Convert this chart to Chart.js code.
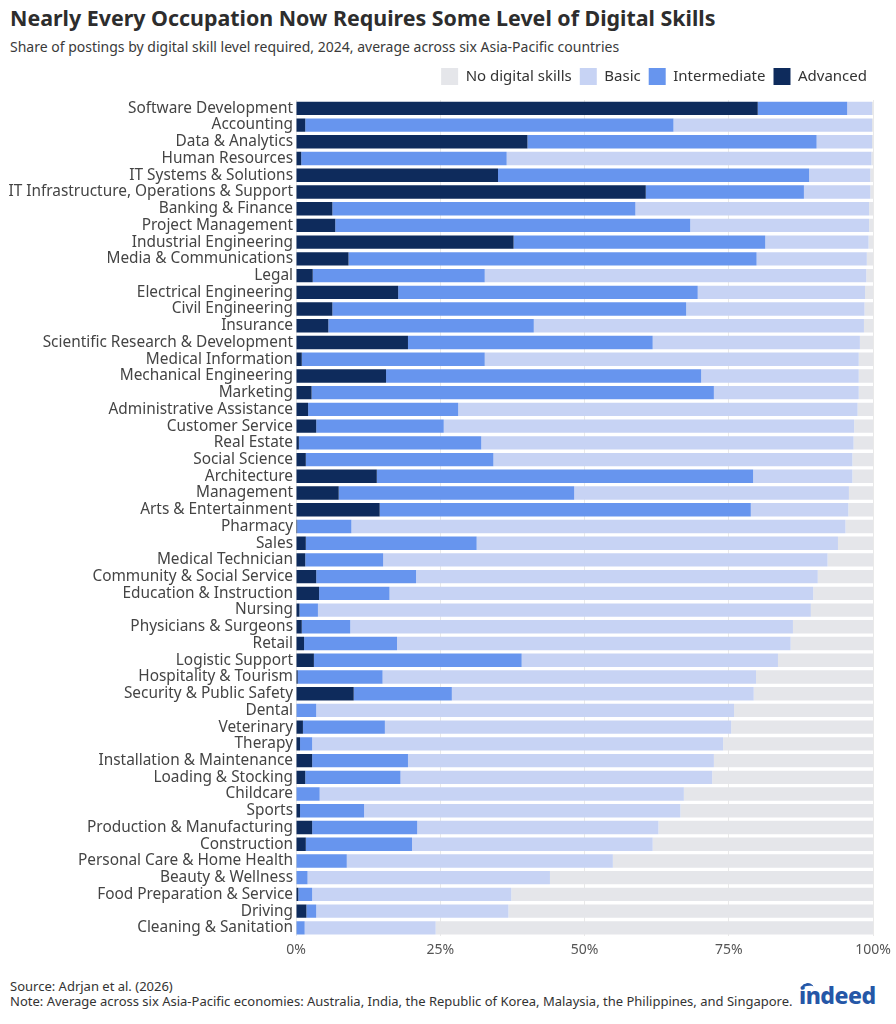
<!DOCTYPE html>
<html>
<head>
<meta charset="utf-8">
<script src="https://cdn.jsdelivr.net/npm/chart.js@4.4.1/dist/chart.umd.min.js"></script>
<style>
    body { margin: 0; background: #fff; font-family: "Noto Sans", sans-serif; }
    #page { position: relative; width: 896px; height: 1024px; overflow: hidden; }
    h1 { position: absolute; left: 10px; top: 3px; margin: 0; font-size: 21.4px; font-weight: 700; color: #2d2d2d; }
    .sub { position: absolute; left: 10px; top: 37px; margin: 0; font-size: 14px; color: #3a3a3a; }
    #wrap { position: absolute; left: 0; top: 50px; width: 896px; height: 917px; }
    .foot { position: absolute; left: 10px; font-size: 13px; color: #333; white-space: nowrap; }
    .logo { position: absolute; left: 799px; top: 979px; font-size: 23px; font-weight: 800; color: #2557a7; letter-spacing: -0.5px; }
    .logo span { position: absolute; left: 2px; top: 4px; width: 13px; height: 9px; border-top: 3px solid #2557a7; border-radius: 50% 50% 0 0; transform: rotate(-15deg); }
</style>
</head>
<body>
<div id="page">
    <h1>Nearly Every Occupation Now Requires Some Level of Digital Skills</h1>
    <p class="sub">Share of postings by digital skill level required, 2024, average across six Asia-Pacific countries</p>
    <div id="wrap"><canvas id="skillsChart"></canvas></div>
    <div class="foot" style="top:977px">Source: Adrjan et al. (2026)</div>
    <div class="foot" style="top:992px">Note: Average across six Asia-Pacific economies: Australia, India, the Republic of Korea, Malaysia, the Philippines, and Singapore.</div>
    <div class="logo"><span></span>indeed</div>
</div>
<script>
// occupations, top to bottom
let occupations = [
    "Software Development", "Accounting", "Data & Analytics", "Human Resources",
    "IT Systems & Solutions", "IT Infrastructure, Operations & Support", "Banking & Finance",
    "Project Management", "Industrial Engineering", "Media & Communications", "Legal",
    "Electrical Engineering", "Civil Engineering", "Insurance", "Scientific Research & Development",
    "Medical Information", "Mechanical Engineering", "Marketing", "Administrative Assistance",
    "Customer Service", "Real Estate", "Social Science", "Architecture", "Management",
    "Arts & Entertainment", "Pharmacy", "Sales", "Medical Technician", "Community & Social Service",
    "Education & Instruction", "Nursing", "Physicians & Surgeons", "Retail", "Logistic Support",
    "Hospitality & Tourism", "Security & Public Safety", "Dental", "Veterinary", "Therapy",
    "Installation & Maintenance", "Loading & Stocking", "Childcare", "Sports",
    "Production & Manufacturing", "Construction", "Personal Care & Home Health",
    "Beauty & Wellness", "Food Preparation & Service", "Driving", "Cleaning & Sanitation",
];

// shares in %, same order as occupations
let advanced = [
    80.0, 1.6, 40.1, 0.9, 35.0, 60.6, 6.3, 6.8, 37.7, 9.1,
    2.9, 17.7, 6.3, 5.6, 19.4, 1.0, 15.6, 2.7, 2.1, 3.5,
    0.5, 1.7, 14.0, 7.4, 14.5, 0.2, 1.7, 1.6, 3.5, 4.0,
    0.6, 1.0, 1.4, 3.1, 0.3, 10.0, 0.1, 1.2, 0.7, 2.8,
    1.6, 0.1, 0.7, 2.8, 1.7, 0.1, 0.1, 0.4, 1.8, 0.1,
];
let intermediate = [
    15.5, 63.8, 50.1, 35.6, 53.9, 27.4, 52.5, 61.5, 43.6, 70.7,
    29.8, 51.9, 61.3, 35.6, 42.4, 31.7, 54.6, 69.7, 26.0, 22.1,
    31.6, 32.5, 65.2, 40.8, 64.3, 9.4, 29.6, 13.5, 17.3, 12.2,
    3.2, 8.4, 16.1, 36.0, 14.7, 17.0, 3.4, 14.2, 2.1, 16.6,
    16.5, 4.0, 11.1, 18.2, 18.4, 8.7, 1.9, 2.4, 1.7, 1.4,
];
let basic = [
    4.3, 34.4, 9.6, 63.2, 10.6, 11.5, 40.5, 31.0, 17.9, 19.1,
    66.1, 29.0, 30.9, 57.2, 35.9, 64.8, 27.3, 25.1, 69.2, 71.1,
    64.5, 62.2, 17.2, 47.6, 16.9, 85.6, 62.6, 77.0, 69.6, 73.4,
    85.4, 76.7, 68.2, 44.4, 64.7, 52.3, 72.4, 60.0, 71.2, 53.0,
    54.0, 63.1, 54.8, 41.8, 41.7, 46.1, 42.0, 34.5, 33.3, 22.7,
];
let noDigital = [
    0.2, 0.2, 0.2, 0.3, 0.5, 0.5, 0.7, 0.7, 0.8, 1.1,
    1.2, 1.4, 1.5, 1.6, 2.3, 2.5, 2.5, 2.5, 2.7, 3.3,
    3.4, 3.6, 3.6, 4.2, 4.3, 4.8, 6.1, 7.9, 9.6, 10.4,
    10.8, 13.9, 14.3, 16.5, 20.3, 20.7, 24.1, 24.6, 26.0, 27.6,
    27.9, 32.8, 33.4, 37.2, 38.2, 45.1, 56.0, 62.7, 63.2, 75.8,
];
let xTicks = [0, 25, 50, 75, 100];

// adds some space under the legend
const legendGap = {
    id: "legendGap",
    beforeInit(chart) {
        const fit = chart.legend.fit;
        chart.legend.fit = function () {
            fit.bind(chart.legend)();
            this.height += 5;
        };
    },
};

let ctx = document.getElementById("skillsChart").getContext("2d");
let chart = new Chart(ctx, {
    type: "bar",
    data: {
        labels: occupations,
        datasets: [
            { label: "Advanced", data: advanced, backgroundColor: "#0e2b5c" },
            { label: "Intermediate", data: intermediate, backgroundColor: "#6795ee" },
            { label: "Basic", data: basic, backgroundColor: "#c7d3f4" },
            { label: "No digital skills", data: noDigital, backgroundColor: "#e5e6ea" },
        ],
    },
    options: {
        indexAxis: "y",
        responsive: true,
        maintainAspectRatio: false,
        animation: false,
        datasets: { bar: { barPercentage: 0.8, categoryPercentage: 1 } },
        layout: { padding: { top: 10, right: 21, bottom: 4, left: 0 } },
        plugins: {
            legend: {
                position: "top",
                align: "end",
                reverse: true,
                labels: {
                    boxWidth: 17,
                    boxHeight: 17,
                    padding: 8,
                    color: "#333",
                    font: { family: "Noto Sans", size: 15 },
                },
            },
            tooltip: { enabled: false },
        },
        scales: {
            x: {
                stacked: true,
                min: 0,
                max: 100,
                afterBuildTicks: (scale) => { scale.ticks = xTicks.map((v) => ({ value: v })); },
                border: { display: false },
                grid: { color: "#e9e9e9", drawTicks: false },
                ticks: {
                    padding: 5,
                    color: "#555",
                    font: { family: "Noto Sans", size: 14 },
                    callback: (v) => v + "%",
                },
            },
            y: {
                stacked: true,
                border: { display: false },
                grid: { display: false, drawTicks: false },
                afterFit: (scale) => { scale.width = 296; },
                ticks: {
                    autoSkip: false,
                    padding: 3,
                    color: "#444",
                    font: { family: "Noto Sans", size: 15.4 },
                },
            },
        },
    },
    plugins: [legendGap],
});
</script>
</body>
</html>
